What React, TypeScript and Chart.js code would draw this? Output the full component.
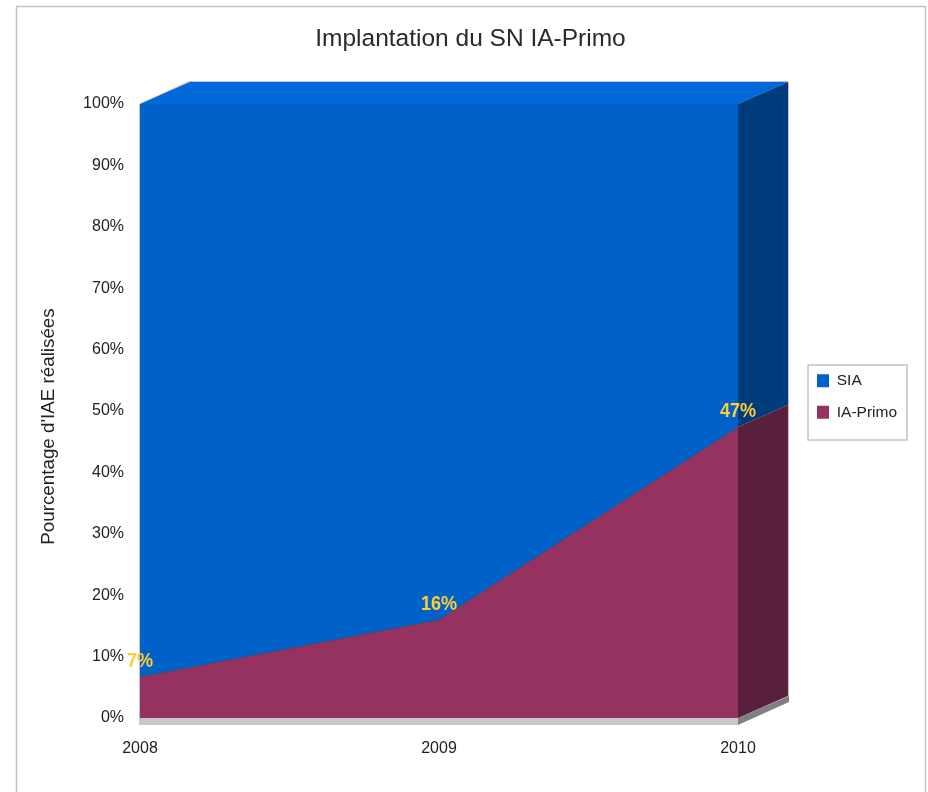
import React, { useEffect, useRef } from "react";
import { Chart, registerables } from "chart.js";

Chart.register(...registerables);

const years = ["2008", "2009", "2010"];
const iaPrimo = [6.7, 16, 47.4];
const sia = [93.3, 84, 52.6];
const chartTitle = "Implantation du SN IA-Primo";
const yAxisTitle = "Pourcentage d'IAE réalisées";
const dataLabels = ["7%", "16%", "47%"];

const BLUE = "#0062c8";
const BLUE_TOP = "#0069d9";
const BLUE_SIDE = "#003c7c";
const MAROON = "#953260";
const MAROON_SIDE = "#5a1f3d";
const FONT = "'Liberation Sans', Arial, sans-serif";
const DX = 50;
const DY = 22;

function poly(ctx: CanvasRenderingContext2D, pts: number[][], fill: string) {
  ctx.beginPath();
  pts.forEach(([x, y], i) => (i ? ctx.lineTo(x, y) : ctx.moveTo(x, y)));
  ctx.closePath();
  ctx.fillStyle = fill;
  ctx.fill();
}

const framePlugin = {
  id: "frame",
  beforeDraw(chart: any) {
    const { ctx, width, height } = chart;
    ctx.save();
    ctx.fillStyle = "#ffffff";
    ctx.fillRect(0, 0, width, height);
    ctx.strokeStyle = "#c4c4c4";
    ctx.lineWidth = 1.5;
    ctx.beginPath();
    ctx.moveTo(16.5, height + 2);
    ctx.lineTo(16.5, 6.5);
    ctx.lineTo(925.5, 6.5);
    ctx.lineTo(925.5, height + 2);
    ctx.stroke();
    // legend frame
    ctx.fillStyle = "#ffffff";
    ctx.fillRect(808, 365, 99, 75);
    ctx.strokeRect(808, 365, 99, 75);
    // y axis title
    ctx.translate(49, 426.5);
    ctx.rotate(-Math.PI / 2);
    ctx.fillStyle = "#222222";
    ctx.font = `18.8px ${FONT}`;
    ctx.textAlign = "center";
    ctx.textBaseline = "middle";
    ctx.fillText(yAxisTitle, 0, 0);
    ctx.restore();
  },
  afterLayout(chart: any) {
    if (chart.titleBlock) {
      chart.titleBlock.left = 16;
      chart.titleBlock.right = 925;
    }
    const lg = chart.legend;
    if (lg) {
      lg.left = 801;
      lg.right = 910;
      lg.top = 348;
      lg.bottom = 445;
    }
  },
};

const depthPlugin = {
  id: "depth",
  beforeDatasetsDraw(chart: any) {
    const { ctx, chartArea: a, scales } = chart;
    const y0 = scales.y.getPixelForValue(0);
    const y100 = scales.y.getPixelForValue(100);
    const last = iaPrimo[iaPrimo.length - 1];
    const yB = scales.y.getPixelForValue(last);
    const l = a.left;
    const r = a.right;
    ctx.save();
    // floor
    poly(ctx, [[l - 1, y0], [r, y0], [r, y0 + 7], [l - 1, y0 + 7]], "#c8c8c8");
    poly(ctx, [[r, y0], [r + DX + 1, y0 - DY], [r + DX + 1, y0 - DY + 6], [r, y0 + 7]], "#808080");
    // left edge
    ctx.fillStyle = "#c4c4c4";
    ctx.fillRect(l - 1, y100, 1, y0 - y100);
    // top face
    poly(ctx, [[l - 1, y100], [l + DX - 1, y100 - DY - 1], [r + DX + 1, y100 - DY - 1], [r, y100]], "#c4c4c4");
    poly(ctx, [[l, y100], [l + DX, y100 - DY], [r + DX, y100 - DY], [r, y100]], BLUE_TOP);
    // right wall
    ctx.fillStyle = "#c4c4c4";
    ctx.fillRect(r + DX, y100 - DY, 1, y0 - y100);
    poly(ctx, [[r, y100], [r + DX, y100 - DY], [r + DX, yB - DY], [r, yB]], BLUE_SIDE);
    poly(ctx, [[r, yB], [r + DX, yB - DY], [r + DX, y0 - DY], [r, y0]], MAROON_SIDE);
    ctx.restore();
  },
  afterDatasetsDraw(chart: any) {
    const { ctx } = chart;
    const pts = chart.getDatasetMeta(0).data;
    ctx.save();
    ctx.font = `bold 21px ${FONT}`;
    ctx.fillStyle = "#ffcc33";
    ctx.textAlign = "center";
    ctx.textBaseline = "middle";
    pts.forEach((p: any, i: number) => {
      ctx.save();
      ctx.translate(p.x, p.y - 16);
      ctx.scale(0.86, 1);
      ctx.fillText(dataLabels[i], 0, 0);
      ctx.restore();
    });
    ctx.restore();
  },
};

export default function App() {
  const ref = useRef<HTMLCanvasElement>(null);
  useEffect(() => {
    if (!ref.current) return;
    const chart = new Chart(ref.current, {
      type: "line",
      data: {
        labels: years,
        datasets: [
          { label: "IA-Primo", data: iaPrimo, backgroundColor: MAROON, borderColor: "#2a4a80", borderWidth: 1, fill: "origin", pointRadius: 0, tension: 0 },
          { label: "SIA", data: sia, backgroundColor: BLUE, borderColor: BLUE, borderWidth: 0, fill: "-1", pointRadius: 0, tension: 0 },
        ],
      },
      options: {
        animation: false,
        responsive: false,
        layout: { padding: { left: 0, top: 0, right: 190, bottom: 0 } },
        plugins: {
          title: {
            display: true,
            text: chartTitle,
            color: "#2a2a2a",
            font: { family: FONT, size: 24.5, weight: "normal", lineHeight: 1.2 },
            padding: { top: 25, bottom: 49.6 },
          },
          legend: {
            display: true,
            position: "chartArea",
            labels: {
              color: "#222222",
              font: { family: FONT, size: 15.5 },
              boxWidth: 12,
              boxHeight: 13,
              padding: 16,
              sort: (a: any, b: any) => b.datasetIndex - a.datasetIndex,
              generateLabels: (c: any) =>
                Chart.defaults.plugins.legend.labels.generateLabels(c).map((it: any) => ({ ...it, lineWidth: 0 })),
            },
          },
          tooltip: { enabled: false },
        },
        scales: {
          x: {
            type: "category",
            offset: false,
            grid: { display: false },
            border: { display: false },
            ticks: { color: "#222222", font: { family: FONT, size: 16 }, padding: 13, maxRotation: 0, autoSkip: false },
            afterFit: (s: any) => { s.height = 74; },
          },
          y: {
            stacked: true,
            min: 0,
            max: 100,
            grid: { display: false },
            border: { display: false },
            ticks: {
              color: "#222222",
              font: { family: FONT, size: 16 },
              stepSize: 10,
              padding: 8,
              callback: (v: any) => `${v}%`,
            },
            afterFit: (s: any) => { s.width = 140; },
          },
        },
      } as any,
      plugins: [framePlugin, depthPlugin],
    });
    return () => chart.destroy();
  }, []);
  return (
    <canvas
      ref={ref}
      width={928}
      height={792}
      style={{ position: "absolute", left: 0, top: 0, width: 928, height: 792, display: "block", filter: "blur(0.4px)" }}
    />
  );
}
